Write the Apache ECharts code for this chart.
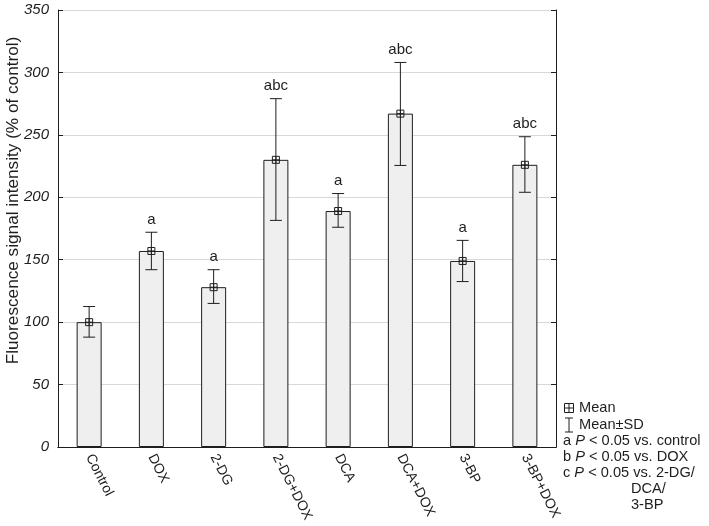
<!DOCTYPE html>
<html>
<head>
<meta charset="utf-8">
<script src="https://cdn.jsdelivr.net/npm/echarts@6/dist/echarts.min.js"></script>
<style>
  html, body { margin: 0; padding: 0; background: #fff; }
  #chart { width: 709px; height: 526px; }
</style>
</head>
<body>
<div id="chart"></div>
<script>
const categories = ['Control', 'DOX', '2-DG', '2-DG+DOX', 'DCA', 'DCA+DOX', '3-BP', '3-BP+DOX'];
const means = [100, 157, 128, 230, 189, 267, 149, 226];
const lowerSD = [88, 142, 115, 181.5, 176, 225.5, 132.5, 204];
const upperSD = [112.5, 172, 142, 279, 203, 308, 165.5, 248.5];
const sigLabels = ['', 'a', 'a', 'abc', 'a', 'abc', 'a', 'abc'];
const yTicks = { min: 0, max: 350, interval: 50 };

const ink = '#1e1e1e';
const font = 'Liberation Sans, Arial, sans-serif';

const chart = echarts.init(document.getElementById('chart'));

function markerBox(cx, cy, s) {
  return [
    { type: 'rect', shape: { x: cx - s / 2, y: cy - s / 2, width: s, height: s }, style: { fill: 'none', stroke: ink, lineWidth: 1 } },
    { type: 'line', shape: { x1: cx - s / 2, y1: cy, x2: cx + s / 2, y2: cy }, style: { stroke: ink, lineWidth: 1 } },
    { type: 'line', shape: { x1: cx, y1: cy - s / 2, x2: cx, y2: cy + s / 2 }, style: { stroke: ink, lineWidth: 1 } }
  ];
}

const legendSize = 14.6;
const italicP = { i: { fontStyle: 'italic', fontSize: legendSize, fontFamily: font, fill: ink } };

const option = {
  animation: false,
  backgroundColor: '#fff',
  grid: { left: 58, right: 153, top: 10, bottom: 79, show: false, outerBoundsMode: 'none', containLabel: false },
  xAxis: [{
    type: 'category',
    data: categories,
    axisLine: { lineStyle: { color: ink, width: 1 } },
    axisTick: { inside: true, length: 5, alignWithLabel: true, lineStyle: { color: ink } },
    axisLabel: {
      interval: 0, rotate: -63, margin: 8,
      color: ink, fontSize: 14, fontFamily: font
    }
  }, {
    type: 'category',
    position: 'top',
    data: categories,
    axisLine: { lineStyle: { color: ink, width: 1 } },
    axisTick: { inside: true, length: 5, alignWithLabel: true, lineStyle: { color: ink } },
    axisLabel: { show: false }
  }],
  yAxis: [{
    type: 'value',
    min: yTicks.min, max: yTicks.max, interval: yTicks.interval,
    name: 'Fluorescence signal intensity (% of control)',
    nameLocation: 'middle',
    nameGap: 36,
    nameMoveOverlap: false,
    nameTextStyle: { color: ink, fontSize: 17.2, fontFamily: font, padding: [0, 0, 0, 56] },
    axisLine: { show: true, lineStyle: { color: ink, width: 1 } },
    axisTick: { show: true, inside: true, length: 5, lineStyle: { color: ink } },
    axisLabel: { color: ink, fontSize: 15, fontStyle: 'italic', fontFamily: font, margin: 9 },
    splitLine: { show: true, lineStyle: { color: '#d8d8d8', width: 1 } }
  }, {
    type: 'value',
    position: 'right',
    min: yTicks.min, max: yTicks.max, interval: yTicks.interval,
    axisLine: { show: true, lineStyle: { color: ink, width: 1 } },
    axisTick: { show: true, inside: true, length: 5, lineStyle: { color: ink } },
    axisLabel: { show: false },
    splitLine: { show: false }
  }],
  series: [{
    type: 'bar',
    data: means,
    barWidth: 25,
    itemStyle: { color: '#efefef', borderColor: ink, borderWidth: 1 }
  }, {
    type: 'custom',
    data: categories.map((c, i) => [i, means[i], lowerSD[i], upperSD[i]]),
    z: 5,
    renderItem(params, api) {
      const i = api.value(0);
      const m = api.coord([i, api.value(1)]);
      const lo = api.coord([i, api.value(2)]);
      const hi = api.coord([i, api.value(3)]);
      const cx = m[0];
      const cap = 6;
      const children = [
        { type: 'line', shape: { x1: cx, y1: lo[1], x2: cx, y2: hi[1] }, style: { stroke: ink, lineWidth: 1 } },
        { type: 'line', shape: { x1: cx - cap, y1: lo[1], x2: cx + cap, y2: lo[1] }, style: { stroke: ink, lineWidth: 1 } },
        { type: 'line', shape: { x1: cx - cap, y1: hi[1], x2: cx + cap, y2: hi[1] }, style: { stroke: ink, lineWidth: 1 } }
      ].concat(markerBox(cx, m[1], 7));
      const lab = sigLabels[params.dataIndex];
      if (lab) {
        children.push({
          type: 'text',
          style: {
            x: cx, y: hi[1] - 5, text: lab,
            align: 'center', verticalAlign: 'bottom',
            fill: ink, fontSize: 15, fontFamily: font
          }
        });
      }
      return { type: 'group', children };
    }
  }],
  graphic: [
    ...markerBox(569, 408, 9),
    { type: 'line', shape: { x1: 569, y1: 418, x2: 569, y2: 432 }, style: { stroke: ink, lineWidth: 1 } },
    { type: 'line', shape: { x1: 565, y1: 418, x2: 573, y2: 418 }, style: { stroke: ink, lineWidth: 1 } },
    { type: 'line', shape: { x1: 565, y1: 432, x2: 573, y2: 432 }, style: { stroke: ink, lineWidth: 1 } },
    { type: 'text', style: { x: 579, y: 408, text: 'Mean', verticalAlign: 'middle', fill: ink, fontSize: legendSize, fontFamily: font } },
    { type: 'text', style: { x: 579, y: 425, text: 'Mean±SD', verticalAlign: 'middle', fill: ink, fontSize: legendSize, fontFamily: font } },
    { type: 'text', style: { x: 563, y: 441, text: 'a {i|P} < 0.05 vs. control', verticalAlign: 'middle', fill: ink, fontSize: legendSize, fontFamily: font, rich: italicP } },
    { type: 'text', style: { x: 563, y: 457, text: 'b {i|P} < 0.05 vs. DOX', verticalAlign: 'middle', fill: ink, fontSize: legendSize, fontFamily: font, rich: italicP } },
    { type: 'text', style: { x: 563, y: 473, text: 'c {i|P} < 0.05 vs. 2-DG/', verticalAlign: 'middle', fill: ink, fontSize: legendSize, fontFamily: font, rich: italicP } },
    { type: 'text', style: { x: 631, y: 489, text: 'DCA/', verticalAlign: 'middle', fill: ink, fontSize: legendSize, fontFamily: font } },
    { type: 'text', style: { x: 631, y: 505, text: '3-BP', verticalAlign: 'middle', fill: ink, fontSize: legendSize, fontFamily: font } }
  ]
};

chart.setOption(option);
</script>
</body>
</html>
